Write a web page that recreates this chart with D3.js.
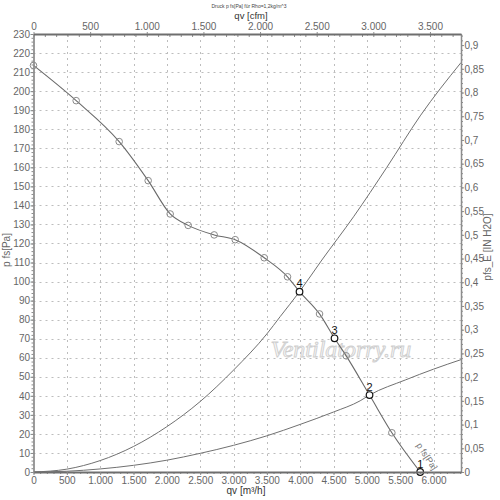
<!DOCTYPE html>
<html><head><meta charset="utf-8">
<script src="https://cdn.jsdelivr.net/npm/d3@7"></script>
<style>body{margin:0;background:#fff} svg{display:block}</style>
</head><body>
<svg id="c" width="500" height="500"></svg>
<script>
// ---- data ----
const qvFan = [0, 640, 1285, 1720, 2050, 2320, 2710, 3025, 3460, 3810, 3990, 4290, 4515, 4690, 5040, 5375, 5800];
const pFan  = [213.5, 195, 173.5, 153, 135.5, 129.5, 124.5, 122, 112.5, 102.5, 94.7, 83, 70.2, 61, 40.4, 20.6, 0];
const fanLabels = ["","","","","","","","","","","4","","3","","2","","1"];

const qvSysSteep = [0, 500, 1000, 1500, 2000, 2500, 3000, 3500, 3700, 3990, 4325, 4800, 5300, 5800, 6412];
const pSysSteep  = [0, 1.5, 6, 13.4, 23.8, 37, 53.5, 72.5, 81.6, 94.7, 111.3, 134, 160, 187, 215];

const qvSysFlat = [0, 500, 1000, 1500, 2000, 2500, 3000, 3500, 4000, 4500, 4900, 5040, 5575, 6000, 6412];
const pSysFlat  = [0, 0.4, 1.6, 3.5, 6.2, 9.8, 14, 19, 25, 31.5, 37.4, 40.4, 48.3, 54, 59];

const m3hTicks = [0, 500, 1000, 1500, 2000, 2500, 3000, 3500, 4000, 4500, 5000, 5500, 6000];
const cfmTicks = [0, 500, 1000, 1500, 2000, 2500, 3000, 3500];
const paTicks  = [0,10,20,30,40,50,60,70,80,90,100,110,120,130,140,150,160,170,180,190,200,210,220,230];
const inTicks  = [0,0.05,0.1,0.15,0.2,0.25,0.3,0.35,0.4,0.45,0.5,0.55,0.6,0.65,0.7,0.75,0.8,0.85,0.9];

const M3H_PER_CFM = 1.699;
const PA_PER_INH2O = 249.089;

// ---- layout ----
const L = 33.5, R = 461, T = 34, B = 472;
const xMax = 6412, yMax = 230;
const svg = d3.select("#c");
const FONT = "'Liberation Sans', Arial, sans-serif";

const loc = d3.formatLocale({decimal: ",", thousands: ".", grouping: [3], currency: ["", ""]});
const fInt = loc.format(",");
const fDec = loc.format(",.2~f");

const x  = d3.scaleLinear().domain([0, xMax]).range([L, R]);
const xc = d3.scaleLinear().domain([0, xMax / M3H_PER_CFM]).range([L, R]);
const y  = d3.scaleLinear().domain([0, yMax]).range([B, T]);
const yi = d3.scaleLinear().domain([0, yMax / PA_PER_INH2O]).range([B, T]);

svg.append("defs").append("clipPath").attr("id", "plot")
  .append("rect").attr("x", L).attr("y", T).attr("width", R - L).attr("height", B - T);

// ---- grid ----
const grid = svg.append("g").attr("stroke", "#bdbdbd").attr("stroke-width", 1).attr("stroke-dasharray", "2,4");
grid.selectAll(".gv").data(m3hTicks.filter(d => d > 0)).join("line")
  .attr("x1", d => Math.round(x(d)) + 0.5).attr("x2", d => Math.round(x(d)) + 0.5)
  .attr("y1", T).attr("y2", B);
grid.selectAll(".gh").data(paTicks.filter(d => d > 0 && d < yMax)).join("line")
  .attr("y1", d => Math.round(y(d)) + 0.5).attr("y2", d => Math.round(y(d)) + 0.5)
  .attr("x1", L).attr("x2", R);

// ---- watermark ----
svg.append("text").attr("x", 341).attr("y", 357).attr("text-anchor", "middle")
  .attr("font-family", "'Liberation Serif', 'DejaVu Serif', serif").attr("font-style", "italic")
  .attr("font-size", 24).attr("fill", "#f7f7f7").attr("stroke", "#cfcfcf").attr("stroke-width", 0.9)
  .text("Ventilatorry.ru");

// ---- curves ----
const curves = svg.append("g").attr("clip-path", "url(#plot)").attr("fill", "none");
const lineGen = d3.line().x(d => x(d[0])).y(d => y(d[1]));
curves.append("path").datum(d3.zip(qvSysSteep, pSysSteep))
  .attr("d", lineGen.curve(d3.curveMonotoneX)).attr("stroke", "#707070").attr("stroke-width", 1);
curves.append("path").datum(d3.zip(qvSysFlat, pSysFlat))
  .attr("d", lineGen.curve(d3.curveMonotoneX)).attr("stroke", "#707070").attr("stroke-width", 1);
curves.append("path").datum(d3.zip(qvFan, pFan))
  .attr("d", lineGen.curve(d3.curveMonotoneX)).attr("stroke", "#6a6a6a").attr("stroke-width", 1.1);

// ---- markers ----
const pts = qvFan.map((q, i) => ({q, p: pFan[i], lab: fanLabels[i]}));
svg.append("g").selectAll("circle").data(pts.filter(d => !d.lab)).join("circle")
  .attr("cx", d => x(d.q)).attr("cy", d => y(d.p)).attr("r", 3.3)
  .attr("fill", "none").attr("stroke", "#8a8a8a").attr("stroke-width", 1);
svg.append("g").selectAll("circle").data(pts.filter(d => d.lab)).join("circle")
  .attr("cx", d => x(d.q)).attr("cy", d => y(d.p)).attr("r", 3.3)
  .attr("fill", "#fff").attr("stroke", "#111").attr("stroke-width", 1.2);
svg.append("g").selectAll("text").data(pts.filter(d => d.lab)).join("text")
  .attr("x", d => x(d.q)).attr("y", d => y(d.p) - 4.5).attr("text-anchor", "middle")
  .attr("font-family", FONT).attr("font-size", 11).attr("fill", "#111")
  .text(d => d.lab);

// curve name along fan curve end
const endQ = qvFan[qvFan.length - 1];
svg.append("text").attr("transform", `translate(${x(endQ) + 4},${y(0) - 14}) rotate(57)`)
  .attr("text-anchor", "middle").attr("font-family", FONT).attr("font-size", 9).attr("fill", "#777")
  .text("p fs[Pa]");

// ---- axes ----
function styleAxis(g) {
  g.selectAll("path").attr("stroke", "#8c8c8c");
  g.selectAll("line").attr("stroke", "#8c8c8c");
  g.selectAll("text").attr("fill", "#666").attr("font-family", FONT).attr("font-size", 10);
}
const minor = (a, b, s) => d3.range(a, b + s / 2, s);

// left (Pa)
svg.append("g").attr("transform", `translate(${L},0)`)
  .call(d3.axisLeft(y).tickValues(minor(0, 230, 2)).tickSize(2).tickFormat("").tickSizeOuter(0))
  .call(styleAxis);
svg.append("g").attr("transform", `translate(${L},0)`)
  .call(d3.axisLeft(y).tickValues(paTicks).tickSize(3).tickPadding(0.5).tickFormat(fInt).tickSizeOuter(0))
  .call(styleAxis).call(g => g.select(".domain").attr("stroke-width", 1.5));

// right (in H2O)
svg.append("g").attr("transform", `translate(${R},0)`)
  .call(d3.axisRight(yi).tickValues(minor(0, 0.92, 0.01)).tickSize(2).tickFormat("").tickSizeOuter(0))
  .call(styleAxis);
svg.append("g").attr("transform", `translate(${R},0)`)
  .call(d3.axisRight(yi).tickValues(inTicks).tickSize(3).tickPadding(0.5).tickFormat(fDec).tickSizeOuter(0))
  .call(styleAxis).call(g => g.select(".domain").attr("stroke-width", 1.5));

// bottom (m3/h)
svg.append("g").attr("transform", `translate(0,${B})`)
  .call(d3.axisBottom(x).tickValues(minor(0, 6400, 100)).tickSize(2).tickFormat("").tickSizeOuter(0))
  .call(styleAxis);
svg.append("g").attr("transform", `translate(0,${B})`)
  .call(d3.axisBottom(x).tickValues(m3hTicks).tickSize(3).tickPadding(2).tickFormat(fInt).tickSizeOuter(0))
  .call(styleAxis).call(g => g.select(".domain").attr("stroke", "#6e6e6e").attr("stroke-width", 2.2));

// top (cfm)
svg.append("g").attr("transform", `translate(0,${T})`)
  .call(d3.axisTop(xc).tickValues(minor(0, 3700, 100)).tickSize(-3).tickFormat("").tickSizeOuter(0))
  .call(styleAxis);
svg.append("g").attr("transform", `translate(0,${T})`)
  .call(d3.axisTop(xc).tickValues(cfmTicks).tickSize(2).tickPadding(2).tickFormat(fInt).tickSizeOuter(0))
  .call(styleAxis).call(g => g.select(".domain").attr("stroke", "#6e6e6e").attr("stroke-width", 2.2));

// ---- titles ----
svg.append("text").attr("x", 249).attr("y", 7.5).attr("text-anchor", "middle")
  .attr("font-family", FONT).attr("font-size", 5).attr("fill", "#444")
  .text("Druck p fs[Pa] für Rho=1,2kg/m^3");
svg.append("text").attr("x", 251).attr("y", 18.5).attr("text-anchor", "middle")
  .attr("font-family", FONT).attr("font-size", 9.5).attr("fill", "#333").text("qv [cfm]");
svg.append("text").attr("x", 246).attr("y", 494).attr("text-anchor", "middle")
  .attr("font-family", FONT).attr("font-size", 10).attr("fill", "#333").text("qv [m³/h]");
svg.append("text").attr("transform", "translate(10,250) rotate(-90)").attr("text-anchor", "middle")
  .attr("font-family", FONT).attr("font-size", 10).attr("fill", "#666").text("p fs[Pa]");
svg.append("text").attr("transform", "translate(491,247) rotate(-90)").attr("text-anchor", "middle")
  .attr("font-family", FONT).attr("font-size", 10).attr("fill", "#666").text("pfs_E [IN H2O]");
</script>
</body></html>
